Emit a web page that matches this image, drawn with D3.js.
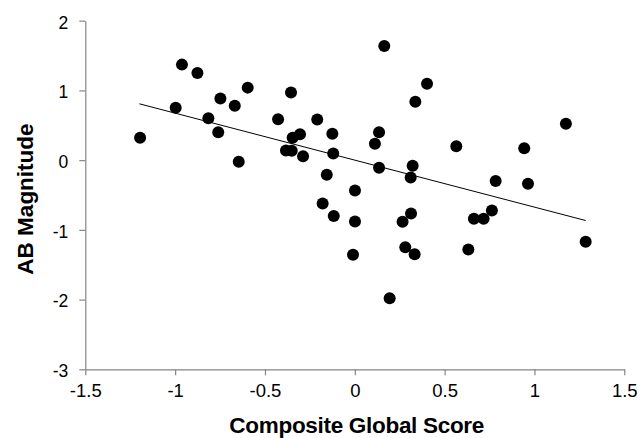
<!DOCTYPE html>
<html lang="en">
<head>
    <meta charset="UTF-8">
    <script src="https://d3js.org/d3.v7.min.js"></script>
    <style>
        body { margin: 0; background: #fff; }
        svg { display: block; }
    </style>
</head>
<body>
<div id="chart"></div>
<script>
    // global score (x) and AB magnitude (y)
    var scoreValues = [-1.195, -0.997, -0.962, -0.876, -0.815, -0.76, -0.748, -0.668, -0.646, -0.596,
                       -0.427, -0.383, -0.355, -0.351, -0.346, -0.305, -0.288, -0.209, -0.179, -0.156,
                       -0.125, -0.12, -0.117, -0.01, 0.001, 0.001, 0.112, 0.135, 0.135, 0.164,
                       0.194, 0.266, 0.281, 0.311, 0.313, 0.322, 0.333, 0.337, 0.402, 0.565,
                       0.632, 0.663, 0.717, 0.763, 0.784, 0.943, 0.964, 1.175, 1.285];
    var magnitudeValues = [0.32, 0.75, 1.37, 1.25, 0.60, 0.40, 0.885, 0.78, -0.024, 1.04,
                           0.588, 0.139, 0.97, 0.134, 0.32, 0.37, 0.057, 0.584, -0.622, -0.21,
                           0.378, 0.096, -0.80, -1.358, -0.435, -0.88, 0.234, 0.40, -0.11, 1.636,
                           -1.98, -0.885, -1.248, -0.249, -0.765, -0.081, -1.349, 0.836, 1.095, 0.20,
                           -1.281, -0.842, -0.842, -0.722, -0.30, 0.172, -0.34, 0.521, -1.172];

    // linear trend line end points
    var trendX = [-1.199, 1.285];
    var trendY = [0.808, -0.866];

    var xTicks = [-1.5, -1, -0.5, 0, 0.5, 1, 1.5];
    var yTicks = [-3, -2, -1, 0, 1, 2];

    var width = 641,
        height = 438;

    var svg = d3.select("#chart")
        .append("svg")
        .attr("width", width)
        .attr("height", height);

    var x = d3.scaleLinear().domain([-1.5, 1.5]).range([85.3, 624.3]);
    var y = d3.scaleLinear().domain([-3, 2]).range([369.3, 20.7]);

    var axisColor = "#858585";
    var font = "'Liberation Sans', Arial, sans-serif";

    /* axes */
    var xAxis = svg.append("g")
        .attr("transform", "translate(0," + y(-3) + ")")
        .call(d3.axisBottom(x).tickValues(xTicks).tickSize(6).tickSizeOuter(0).tickPadding(9)
            .tickFormat(function (d) { return String(d); }));

    var yAxis = svg.append("g")
        .attr("transform", "translate(" + x(-1.5) + ",0)")
        .call(d3.axisLeft(y).tickValues(yTicks).tickSize(6).tickSizeOuter(0).tickPadding(11)
            .tickFormat(function (d) { return String(d); }));

    [xAxis, yAxis].forEach(function (g) {
        g.select(".domain").attr("stroke", axisColor).attr("stroke-width", 1.2);
        g.selectAll(".tick line").attr("stroke", axisColor).attr("stroke-width", 1.2);
        g.selectAll(".tick text").attr("fill", "#000").style("font-family", font);
    });
    xAxis.selectAll(".tick text").style("font-size", "18.5px");
    yAxis.selectAll(".tick text").style("font-size", "17.5px").attr("dy", "0.42em");

    /* trend line */
    svg.append("line")
        .attr("x1", x(trendX[0]))
        .attr("y1", y(trendY[0]))
        .attr("x2", x(trendX[1]))
        .attr("y2", y(trendY[1]))
        .attr("stroke", "#000")
        .attr("stroke-width", 1);

    /* points */
    svg.selectAll("circle.pt")
        .data(scoreValues)
        .enter()
        .append("circle")
        .attr("class", "pt")
        .attr("cx", function (d) { return x(d); })
        .attr("cy", function (d, i) { return y(magnitudeValues[i]); })
        .attr("r", 6)
        .style("fill", "#000");

    /* axis titles */
    svg.append("text")
        .attr("x", 356.7)
        .attr("y", 432.5)
        .attr("text-anchor", "middle")
        .style("font-family", font)
        .style("font-weight", "bold")
        .style("font-size", "22.5px")
        .style("letter-spacing", "-0.3px")
        .text("Composite Global Score");

    svg.append("text")
        .attr("transform", "translate(33,199) rotate(-90)")
        .attr("text-anchor", "middle")
        .style("font-family", font)
        .style("font-weight", "bold")
        .style("font-size", "22.5px")
        .text("AB Magnitude");
</script>
</body>
</html>
